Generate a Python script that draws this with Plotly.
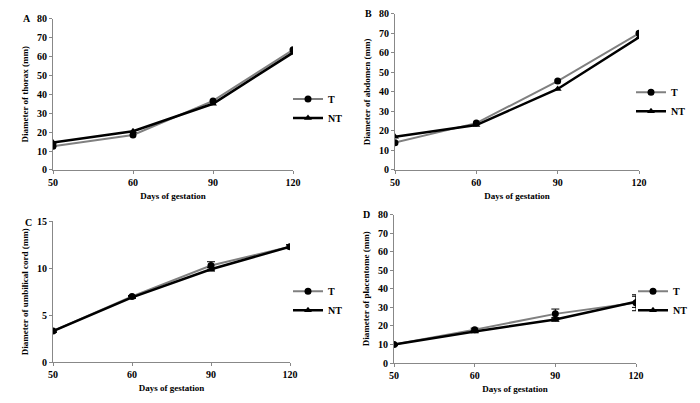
import plotly.graph_objects as go

days = ["50", "60", "90", "120"]

thorax_T = [12.5, 18.5, 36.5, 63.5]
thorax_NT = [14.5, 20.5, 35.0, 62.0]
abdomen_T = [14.0, 24.0, 45.5, 70.0]
abdomen_NT = [17.0, 23.0, 41.5, 68.0]
cord_T = [3.3, 7.0, 10.3, 12.3]
cord_NT = [3.3, 6.9, 9.9, 12.3]
cord_T_err = [0.1, 0.1, 0.4, 0.2]
cord_NT_err = [0.1, 0.1, 0.2, 0.2]
plac_T = [10.0, 18.0, 26.5, 32.5]
plac_NT = [10.0, 17.0, 23.5, 33.0]
plac_T_err = [0.5, 0.8, 2.6, 4.3]
plac_NT_err = [0.5, 0.6, 1.0, 3.0]

y_titles = ["Diameter of thorax (mm)", "Diameter of abdomen (mm)",
            "Diameter of umbilical cord (mm)", "Diameter of placentome (mm)"]
letters = ["A", "B", "C", "D"]
y_ranges = [[0, 80], [0, 80], [0, 15], [0, 80]]
y_dticks = [10, 10, 5, 10]

W, H = 700, 403
def px(x):
    return x / W
def py(y):
    return 1 - y / H

# panel pixel boxes: (left, right, top, bottom)
boxes = [(53, 293, 13, 169), (395, 639, 8, 169), (53, 290, 222, 367), (394, 636, 215, 368)]
legend_pos = [(288, 99), (631, 92), (288, 297), (633, 297)]
letter_pos = [(27, 13), (368, 8), (28, 223), (367, 215)]

series = [
    (thorax_T, thorax_NT, None, None),
    (abdomen_T, abdomen_NT, None, None),
    (cord_T, cord_NT, cord_T_err, cord_NT_err),
    (plac_T, plac_NT, plac_T_err, plac_NT_err),
]

FONT = "Liberation Serif"
fig = go.Figure()
layout = dict(width=W, height=H, margin=dict(l=0, r=0, t=0, b=0, pad=0),
              paper_bgcolor="white", plot_bgcolor="white",
              font=dict(family=FONT, color="black"))
annotations = []

for i, (tv, ntv, te, nte) in enumerate(series):
    n = i + 1
    xa = "x" if n == 1 else f"x{n}"
    ya = "y" if n == 1 else f"y{n}"
    leg = "legend" if n == 1 else f"legend{n}"
    fig.add_trace(go.Scatter(
        x=days, y=tv, name="T", mode="lines+markers", xaxis=xa, yaxis=ya,
        line=dict(color="#808080", width=2),
        marker=dict(symbol="circle", size=7, color="black"),
        error_y=dict(type="data", array=te, color="black", thickness=1, width=4, visible=te is not None),
        legend=leg))
    fig.add_trace(go.Scatter(
        x=days, y=ntv, name="NT", mode="lines+markers", xaxis=xa, yaxis=ya,
        line=dict(color="black", width=2.5),
        marker=dict(symbol="triangle-up", size=7, color="black"),
        error_y=dict(type="data", array=nte, color="black", thickness=1, width=4, visible=nte is not None),
        legend=leg))
    l, r, t, b = boxes[i]
    xkey = "xaxis" if n == 1 else f"xaxis{n}"
    ykey = "yaxis" if n == 1 else f"yaxis{n}"
    layout[xkey] = dict(domain=[px(l), px(r)], anchor=ya, type="category", automargin=False,
                        range=[0, 3], showline=True, linecolor="#888888", linewidth=1,
                        ticks="outside", ticklen=3, tickcolor="#888888",
                        showgrid=False, zeroline=False,
                        tickfont=dict(family=FONT, size=10, color="black", weight="bold"),
                        title=dict(text="<b>Days of gestation</b>", font=dict(family=FONT, size=9),
                                   standoff=5))
    layout[ykey] = dict(domain=[py(b), py(t)], anchor=xa, range=y_ranges[i], dtick=y_dticks[i],
                        automargin=True,
                        showline=True, linecolor="#888888", linewidth=1,
                        ticks="outside", ticklen=3, tickcolor="#888888",
                        showgrid=False, zeroline=False,
                        tickfont=dict(family=FONT, size=10, color="black", weight="bold"),
                        title=dict(text=f"<b>{y_titles[i]}</b>", font=dict(family=FONT, size=9),
                                   standoff=6))
    lx, ly = legend_pos[i]
    layout[leg] = dict(x=px(lx), y=py(ly - 18), xanchor="left", yanchor="top",
                       bgcolor="rgba(0,0,0,0)", tracegroupgap=0, borderwidth=0,
                       font=dict(family=FONT, size=10, color="black", weight="bold"),
                       itemwidth=30)
    ax, ay = letter_pos[i]
    annotations.append(dict(text=f"<b>{letters[i]}</b>", x=px(ax), y=py(ay), xref="paper", yref="paper",
                            xanchor="center", yanchor="middle", showarrow=False,
                            font=dict(family=FONT, size=10, color="black")))

layout["annotations"] = annotations
layout["showlegend"] = True
fig.update_layout(**layout)
fig.write_html("out.html", config={"displayModeBar": False},
               post_script="document.body.style.margin='0';document.body.style.overflow='hidden';")
